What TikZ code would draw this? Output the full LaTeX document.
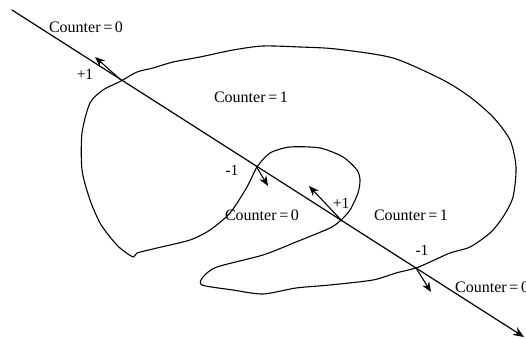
\documentclass[tikz,border=0pt]{standalone}
\usepackage{fontspec}
\setmainfont{Liberation Serif}
\usetikzlibrary{arrows.meta}

\tikzset{
  lbl/.style={font=\fontsize{16}{18}\selectfont, inner sep=0pt},
  sgn/.style={font=\fontsize{15.5}{17}\selectfont, inner sep=0pt},
  dirarrow/.style={-{Stealth[length=10pt,width=8pt]}, line width=1.1pt},
}

\begin{document}
\begin{tikzpicture}[x=1pt,y=-1pt,line cap=round,line join=round]
\useasboundingbox (0,0) rectangle (526,339);
\clip (0,0) rectangle (526,339);
% the closed curve
\draw[line width=1.1pt] plot[smooth cycle,tension=0.45] coordinates {
  (121,81) (137,72) (153,68) (173,62) (200,57) (233,50) (263,46) (300,47)
  (336,49) (393,58) (443,80) (470,97) (493,117) (510,140) (516,167) (513,197)
  (503,217) (490,233) (470,247) (450,253) (430,262) (416,268) (396,273)
  (373,280) (330,285) (296,288) (263,294) (233,290) (202,285) (203,277)
  (217,267) (263,255) (296,242) (330,228) (341,220) (350,210) (358,193)
  (360,180) (357,170) (343,157) (320,148) (290,147) (270,153) (257,167)
  (247,187) (230,213) (210,230) (190,240) (157,248) (137,253) (133,257)
  (120,248) (110,237) (100,223) (90,200) (82,170) (82,133) (90,103) (103,90)};
% the ray and its crossings
\coordinate (start) at (12,10);
\coordinate (end) at (524,337);
\coordinate (x1) at (121,80);
\coordinate (x2) at (256,166);
\coordinate (x3) at (342,221);
\coordinate (x4) at (416,268);
\coordinate (d1) at (95,57);
\coordinate (d2) at (268,186);
\coordinate (d3) at (309,186);
\coordinate (d4) at (431,292);
\draw[-{Stealth[length=11pt,width=9pt]}, line width=1.2pt] (start) -- (end);
\draw[dirarrow] (x1) -- (d1);
\draw[dirarrow] (x2) -- (d2);
\draw[dirarrow] (x3) -- (d3);
\draw[dirarrow] (x4) -- (d4);
% labels
\node[lbl] (c0a) at (86,27) {Counter\,=\,0};
\node[lbl] (c1a) at (251,97) {Counter\,=\,1};
\node[lbl] (c0b) at (262,215) {Counter\,=\,0};
\node[lbl] (c1b) at (411,215) {Counter\,=\,1};
\node[lbl,anchor=west] (c0c) at (455,287) {Counter\,=\,0};
\node[sgn] (s1) at (85,74) {+1};
\node[sgn] (s2) at (232,170) {-1};
\node[sgn] (s3) at (341,203) {+1};
\node[sgn] (s4) at (422,250) {-1};
\end{tikzpicture}
\end{document}
